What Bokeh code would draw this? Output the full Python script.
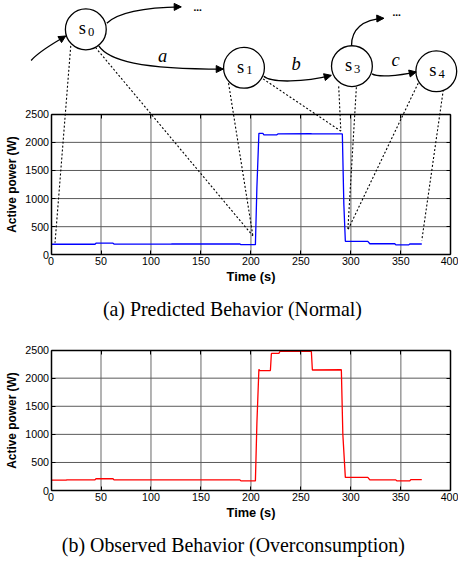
from bokeh.plotting import figure
from bokeh.models import Range1d, LinearAxis, FixedTicker, Arrow, NormalHead, ColumnDataSource
from bokeh.layouts import column
from bokeh.embed import file_html
from bokeh.resources import INLINE
from bokeh.core.properties import value

# ---------------- data ----------------
x_ticks = [0, 50, 100, 150, 200, 250, 300, 350, 400]
y_ticks = [0, 500, 1000, 1500, 2000, 2500]

pred_time = [0, 44, 45, 62, 63, 120, 121, 189, 190, 204.5, 206, 208, 212, 213, 226, 227, 260, 261,
             291.5, 293, 294.5, 317, 319, 344, 345, 358, 359, 371]
pred_power = [187, 187, 206, 206, 190, 190, 192, 192, 180, 180, 1200, 2160, 2160, 2135, 2135, 2150,
              2155, 2150, 2150, 900, 240, 240, 196, 196, 176, 176, 192, 192]

obs_time = [0, 15, 16, 44, 45, 62, 63, 189, 190, 204.5, 206, 208, 209, 219.5, 220.5, 228, 229,
            260.5, 261.5, 290.5, 292, 294.5, 317, 319, 345, 346, 359, 360, 371]
obs_power = [185, 185, 192, 192, 210, 210, 190, 190, 172, 172, 1200, 2157, 2135, 2135, 2440, 2440,
             2475, 2475, 2145, 2150, 1000, 235, 235, 190, 190, 172, 172, 195, 195]

caption_a = "(a) Predicted Behavior (Normal)"
caption_b = "(b) Observed Behavior (Overconsumption)"

# state diagram (layout in reference pixels)
state_sub = ["0", "1", "3", "4"]
state_cx = [88.3, 252.0, 363.7, 451.0]
state_cy = [29.7, 69.2, 67.5, 72.8]
state_diam = 42

# transitions as cubic curves: start, control 1, control 2, end (reference pixels)
tr_x0 = [31.7, 110.0, 101.7, 272.5, 384.5, 363.3]
tr_y0 = [61.7, 23.3, 46.7, 78.0, 75.5, 46.5]
tr_cx0 = [40.0, 122.0, 112.0, 280.0, 390.0, 363.0]
tr_cy0 = [52.0, 12.0, 62.0, 85.0, 79.0, 30.0]
tr_cx1 = [55.0, 150.0, 145.0, 315.0, 410.0, 375.0]
tr_cy1 = [44.0, 7.0, 70.5, 84.0, 78.0, 19.0]
tr_x1 = [67.5, 187.0, 230.5, 342.3, 430.3, 396.7]
tr_y1 = [36.5, 6.5, 70.5, 77.0, 73.5, 18.3]

event_labels = ["a", "b", "c"]
event_x = [167.7, 306.0, 409.0]
event_y = [56.7, 65.7, 61.0]

dots_x = [204.0, 410.0]
dots_y = [10.5, 16.0]

# dotted links: start on a state circle (ref px) -> point of the predicted curve (time, power)
link_sx = [72.7, 98.3, 236.0, 268.3, 350.0, 368.3, 432.3, 458.3]
link_sy = [46.7, 48.3, 85.0, 78.3, 88.3, 89.3, 85.0, 91.7]
link_t = [4, 202, 202, 290, 290, 297, 297, 371]
link_p = [215, 335, 335, 2200, 2200, 440, 440, 255]

# ---------------- layout ----------------
REF_W, REF_H = 474.0, 579.0
W, H = 458, 563
KX, KY = W / REF_W, H / REF_H
H_TOP = 329
H_BOT = H - H_TOP
Y_SPLIT = H_TOP / KY
X0, X400 = 52.3, 466.0


def fs(px):
    return "%.1fpx" % (px * KY)


def xd(X):
    return (X - X0) * 400.0 / (X400 - X0)


def make_yd(Y0, Y2500):
    return lambda Y: (Y0 - Y) * 2500.0 / (Y0 - Y2500)


FONT_SANS = "Liberation Sans"
FONT_SERIF = "Liberation Serif"


def base_figure(height, ytop_ref, ybot_ref, yd):
    p = figure(width=W, height=height,
               x_range=Range1d(xd(0), xd(REF_W)),
               y_range=Range1d(yd(ybot_ref), yd(ytop_ref)),
               output_backend="svg", toolbar_location=None,
               x_axis_type=None, y_axis_type=None, min_border=0)
    p.outline_line_color = None
    p.background_fill_color = "white"
    p.border_fill_color = "white"
    p.xgrid.visible = False
    p.ygrid.visible = False

    # grid lines (inside the box only)
    vx = x_ticks[1:-1]
    p.segment(x0=vx, y0=[y_ticks[0]] * len(vx), x1=vx, y1=[y_ticks[-1]] * len(vx),
              line_color="#a0a0a0", line_width=1.6)
    hy = y_ticks[1:-1]
    p.segment(x0=[x_ticks[0]] * len(hy), y0=hy, x1=[x_ticks[-1]] * len(hy), y1=hy,
              line_color="#5a5a5a", line_width=1)

    common = dict(axis_line_color="black", axis_line_width=1.5,
                  major_tick_in=4, major_tick_out=0, major_tick_line_color="black",
                  minor_tick_line_color=None)
    yax = LinearAxis(fixed_location=x_ticks[0], bounds=(y_ticks[0], y_ticks[-1]),
                     ticker=FixedTicker(ticks=y_ticks), axis_label="Active power (W)",
                     major_label_text_font=FONT_SANS, major_label_text_font_size=fs(11),
                     major_label_text_color="black", major_label_standoff=2,
                     axis_label_text_font=FONT_SANS, axis_label_text_font_size=fs(12.2),
                     axis_label_text_font_style="bold", axis_label_text_color="black",
                     axis_label_standoff=4, **common)
    p.add_layout(yax, "left")
    xax = LinearAxis(fixed_location=y_ticks[0], bounds=(x_ticks[0], x_ticks[-1]),
                     ticker=FixedTicker(ticks=x_ticks), axis_label="Time (s)",
                     major_label_text_font=FONT_SANS, major_label_text_font_size=fs(11),
                     major_label_text_color="black", major_label_standoff=2,
                     axis_label_text_font=FONT_SANS, axis_label_text_font_size=fs(13.2),
                     axis_label_text_font_style="bold", axis_label_text_color="black",
                     axis_label_standoff=1, **common)
    p.add_layout(xax, "below")
    tax = LinearAxis(fixed_location=y_ticks[-1], bounds=(x_ticks[0], x_ticks[-1]),
                     ticker=FixedTicker(ticks=x_ticks),
                     major_label_overrides={t: "" for t in x_ticks}, **common)
    p.add_layout(tax, "above")
    rax = LinearAxis(fixed_location=x_ticks[-1], bounds=(y_ticks[0], y_ticks[-1]),
                     ticker=FixedTicker(ticks=y_ticks),
                     major_label_overrides={t: "" for t in y_ticks}, **common)
    p.add_layout(rax, "right")
    return p


# ---------- top: diagram + predicted behaviour ----------
yd_top = make_yd(261.5, 117.0)
p1 = base_figure(H_TOP, 0.0, Y_SPLIT, yd_top)

# dotted links
p1.segment(x0=[xd(v) for v in link_sx], y0=[yd_top(v) for v in link_sy],
           x1=link_t, y1=link_p, line_color="black", line_width=1.1, line_dash="2 2")

p1.line(pred_time, pred_power, line_color="#0000ff", line_width=1.3)

# transitions
p1.bezier(x0=[xd(v) for v in tr_x0], y0=[yd_top(v) for v in tr_y0],
          x1=[xd(v) for v in tr_x1], y1=[yd_top(v) for v in tr_y1],
          cx0=[xd(v) for v in tr_cx0], cy0=[yd_top(v) for v in tr_cy0],
          cx1=[xd(v) for v in tr_cx1], cy1=[yd_top(v) for v in tr_cy1],
          line_color="black", line_width=1.3)
arrow_src = ColumnDataSource(dict(
    xs=[xd(v) for v in tr_cx1], ys=[yd_top(v) for v in tr_cy1],
    xe=[xd(v) for v in tr_x1], ye=[yd_top(v) for v in tr_y1]))
p1.add_layout(Arrow(end=NormalHead(size=7, fill_color="black", line_color="black", line_width=1),
                    x_start="xs", y_start="ys", x_end="xe", y_end="ye",
                    source=arrow_src, line_alpha=0))

# states
p1.scatter(x=[xd(v) for v in state_cx], y=[yd_top(v) for v in state_cy], size=state_diam * KY,
           marker="circle", fill_color="white", line_color="black", line_width=1.3)
p1.text(x=[xd(v - 3.5) for v in state_cx], y=[yd_top(v - 1) for v in state_cy],
        text=["s"] * len(state_cx), text_align="center", text_baseline="middle",
        text_font=value(FONT_SERIF), text_font_size=fs(19), text_color="black")
p1.text(x=[xd(v + 5.5) for v in state_cx], y=[yd_top(v + 2.5) for v in state_cy],
        text=state_sub, text_align="center", text_baseline="middle",
        text_font=value(FONT_SERIF), text_font_size=fs(13), text_color="black")
p1.text(x=[xd(v) for v in event_x], y=[yd_top(v) for v in event_y], text=event_labels,
        text_align="center", text_baseline="middle", text_font=value(FONT_SERIF),
        text_font_style="italic", text_font_size=fs(19), text_color="black")
p1.text(x=[xd(v) for v in dots_x], y=[yd_top(v - 3.5) for v in dots_y], text=["..."] * len(dots_x),
        text_align="center", text_baseline="middle", text_font=value(FONT_SERIF),
        text_font_style="bold", text_font_size=fs(11.5), text_color="black")

p1.text(x=[xd(240)], y=[yd_top(317)], text=[caption_a], text_align="center",
        text_baseline="middle", text_font=value(FONT_SERIF), text_font_size=fs(20.5),
        text_color="black")

# ---------- bottom: observed behaviour ----------
yd_bot = make_yd(504.0, 359.5)
p2 = base_figure(H_BOT, Y_SPLIT, REF_H, yd_bot)
p2.line(obs_time, obs_power, line_color="#ff0000", line_width=1.3)
p2.text(x=[xd(241)], y=[yd_bot(560)], text=[caption_b], text_align="center",
        text_baseline="middle", text_font=value(FONT_SERIF), text_font_size=fs(20.5),
        text_color="black")

layout = column(p1, p2, spacing=0)
open("out.html", "w").write(file_html(layout, INLINE))
